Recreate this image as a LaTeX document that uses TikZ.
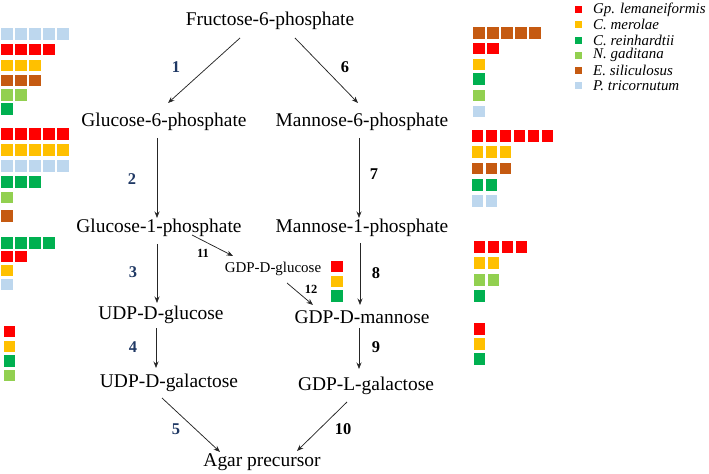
\documentclass[tikz,border=0pt]{standalone}
\usepackage{fontspec}
\setmainfont{Liberation Serif}
\usetikzlibrary{arrows.meta, calc, positioning}
\definecolor{sqred}{HTML}{FF0000}
\definecolor{sqyellow}{HTML}{FFC000}
\definecolor{sqgreen}{HTML}{00B050}
\definecolor{sqlime}{HTML}{92D050}
\definecolor{sqbrown}{HTML}{C55A11}
\definecolor{sqblue}{HTML}{BDD7EE}
\definecolor{stepblue}{HTML}{1F3864}

\tikzset{
  metab/.style={font=\fontsize{19.5}{22}\selectfont, inner sep=0pt},
  smallmetab/.style={font=\fontsize{15}{18}\selectfont, inner sep=0pt},
  stepnum/.style={font=\fontsize{16.5}{19}\selectfont\bfseries, inner sep=0pt},
  smallnum/.style={font=\fontsize{12.5}{15}\selectfont\bfseries, inner sep=0pt},
  legtext/.style={font=\fontsize{15}{18}\selectfont\itshape, inner sep=0pt, anchor=west},
  arr/.style={draw=black!85, line width=0.75pt, -{Stealth[length=6.5pt,width=5pt]}}
}

\begin{document}
\begin{tikzpicture}[x=1bp,y=-1bp]
			\useasboundingbox (0,0) rectangle (709,474);
			
			% metabolites
			\node[metab] (f6p) at (270,21) {Fructose-6-phosphate};
			\node[metab] (g6p) at (164,122) {Glucose-6-phosphate};
			\node[metab] (m6p) at (362,122) {Mannose-6-phosphate};
			\node[metab] (g1p) at (159,228) {Glucose-1-phosphate};
			\node[metab] (m1p) at (362,228) {Mannose-1-phosphate};
			\node[smallmetab] (gdpg) at (273,269) {GDP-D-glucose};
			\node[metab] (udpg) at (161,315) {UDP-D-glucose};
			\node[metab] (gdpm) at (362,317) {GDP-D-mannose};
			\node[metab] (udpgal) at (169,383) {UDP-D-galactose};
			\node[metab] (gdplg) at (366,386) {GDP-L-galactose};
			\node[metab] (agar) at (262,462) {Agar precursor};
			
			% steps
			\draw[arr] ($(f6p)+(-30,17)$) -- ($(g6p)+(4,-19)$);
			\draw[arr] ($(f6p)+(25,17)$) -- ($(m6p)+(-4,-19)$);
			\draw[arr] ($(g6p)+(-7,16)$) -- ($(g1p)+(-2,-10)$);
			\draw[arr] ($(m6p)+(-3,16)$) -- ($(m1p)+(-3,-10)$);
			\draw[arr] ($(g1p)+(-2,16)$) -- ($(udpg)+(-4,-12)$);
			\draw[arr] ($(m1p)+(-2,15)$) -- ($(gdpm)+(-2,-12)$);
			\draw[arr] ($(udpg)+(-5,13)$) -- ($(udpgal)+(-13,-15)$);
			\draw[arr] ($(gdpm)+(-3,11)$) -- ($(gdplg)+(-7,-17)$);
			\draw[arr] ($(udpgal)+(-7,15)$) -- ($(agar)+(-42,-10)$);
			\draw[arr] ($(gdplg)+(-19,16)$) -- ($(agar)+(35,-11)$);
			\draw[arr] ($(g1p)+(33,7)$) -- ($(gdpg)+(-40,-13)$);
			\draw[arr] ($(gdpg)+(14,14)$) -- ($(gdpm)+(-49,-12)$);
			
			% step numbers
			\node[stepnum, stepblue] (n1) at (176,67) {1};
			\node[stepnum, stepblue] (n2) at (132,179) {2};
			\node[stepnum, stepblue] (n3) at (133,272) {3};
			\node[stepnum, stepblue] (n4) at (133,347) {4};
			\node[stepnum, stepblue] (n5) at (176,429) {5};
			\node[stepnum] (n6) at (345,67) {6};
			\node[stepnum] (n7) at (374,174) {7};
			\node[stepnum] (n8) at (376,273) {8};
			\node[stepnum] (n9) at (376,347) {9};
			\node[stepnum] (n10) at (343,429) {10};
			\node[smallnum] (n11) at (203,253) {11};
			\node[smallnum] (n12) at (311,289) {12};
			
			% gene copies per species
			\foreach \x/\y/\n/\c in {
				7/34/5/sqblue, 7/49.5/4/sqred, 7/65.5/3/sqyellow, 7/80.5/3/sqbrown, 7/95/2/sqlime, 7/109/1/sqgreen,
				7/134/5/sqred, 7/150/5/sqyellow, 7/166/5/sqblue, 7/182/3/sqgreen, 7/197.5/1/sqlime, 7/216/1/sqbrown,
				7/243/4/sqgreen, 7/256.5/2/sqred, 7/270.5/1/sqyellow, 7/284.5/1/sqblue,
				9.5/331.5/1/sqred, 9.5/346.5/1/sqyellow, 9.5/361/1/sqgreen, 9.5/375.5/1/sqlime,
				479/33/5/sqbrown, 479/48.5/2/sqred, 479/64.5/1/sqyellow, 479/79/1/sqgreen, 479/95.5/1/sqlime, 479/111.5/1/sqblue,
				477.5/136/6/sqred, 477.5/152/3/sqyellow, 477.5/168.5/3/sqbrown, 477.5/185/2/sqgreen, 477.5/201/2/sqblue,
				479.5/247/4/sqred, 479.5/263/2/sqyellow, 479.5/280/2/sqlime, 479.5/296/1/sqgreen,
				479.5/329/1/sqred, 479.5/344/1/sqyellow, 479.5/359/1/sqgreen,
				337/266.5/1/sqred, 337/281.5/1/sqyellow, 337/296/1/sqgreen}
			{
				\foreach \k in {1,...,\n}
					\fill[fill=\c] ({\x+(\k-1)*14-5.75},{\y-5.75}) rectangle ++(11.5,11.5);
			}
			
			% legend
			\foreach \c/\t [count=\i] in {sqred/Gp. lemaneiformis, sqyellow/C. merolae, sqgreen/C. reinhardtii, sqlime/N. gaditana, sqbrown/E. siliculosus, sqblue/P. tricornutum}
			{
				\fill[fill=\c] (575,{9.7+(\i-1)*15.2-3.5}) rectangle ++(7,7);
				\node[legtext] (leg\i) at (593,{9.7+(\i-1)*15.2}) {\t};
			}
			
		\end{tikzpicture}
\end{document}
